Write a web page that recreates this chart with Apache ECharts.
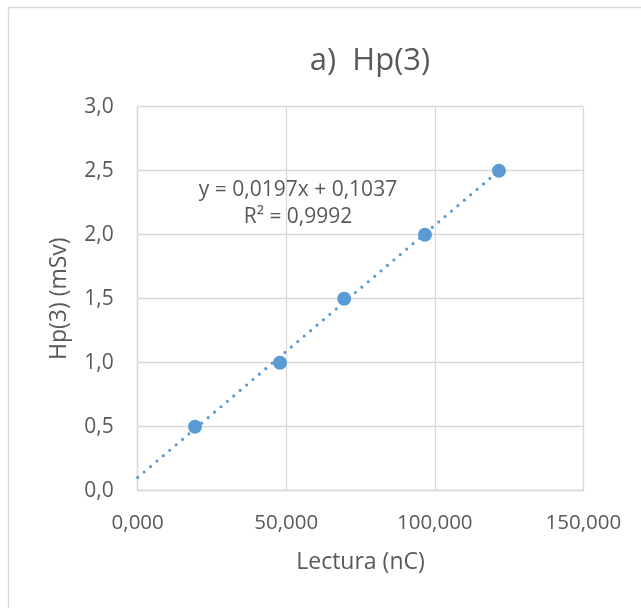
<!DOCTYPE html>
<html>
<head>
<meta charset="utf-8">
<script src="https://cdn.jsdelivr.net/npm/echarts@6/dist/echarts.min.js"></script>
<style>
  html, body { margin: 0; padding: 0; background: #ffffff; }
  #chart { width: 641px; height: 608px; }
</style>
</head>
<body>
<div id="chart"></div>
<script>
// Dosimeter calibration: reading (nC) vs. Hp(3) dose (mSv)
const lecturas = [19.3, 47.9, 69.5, 96.7, 121.6];
const dosis = [0.5, 1.0, 1.5, 2.0, 2.5];

// Linear trendline reported on the chart
const pendiente = 0.0197;
const ordenada = 0.1037;
const r2 = 0.9992;
const trendDesde = 0;

const xTicks = { min: 0, max: 150, step: 50 };
const yTicks = { min: 0, max: 3, step: 0.5 };

const titulo = 'a)  Hp(3)';
const ejeX = 'Lectura (nC)';
const ejeY = 'Hp(3) (mSv)';

const coma = (v, d) => v.toFixed(d).replace('.', ',');
const FONT = '"Open Sans", sans-serif';
const TXT = '#595959';
const GRID = '#D9D9D9';
const AZUL = '#5B9BD5';

const puntos = lecturas.map((x, i) => [x, dosis[i]]);
const xFin = Math.max(...lecturas);
const tendencia = [
  [trendDesde, pendiente * trendDesde + ordenada],
  [xFin, pendiente * xFin + ordenada]
];

const chart = echarts.init(document.getElementById('chart'), null, { renderer: 'canvas' });
chart.setOption({
  backgroundColor: '#ffffff',
  animation: false,
  textStyle: { fontFamily: FONT },
  title: {
    text: titulo,
    left: 365,
    top: 41,
    textAlign: 'center',
    textStyle: { fontFamily: FONT, fontSize: 31, fontWeight: 'normal', color: TXT }
  },
  grid: { left: 137.7, right: 57.7, top: 106.7, bottom: 117.3, containLabel: false },
  xAxis: {
    type: 'value',
    min: xTicks.min, max: xTicks.max, interval: xTicks.step,
    name: ejeX, nameLocation: 'middle', nameGap: 60,
    nameTextStyle: { fontFamily: FONT, fontSize: 23, color: TXT },
    axisLine: { show: true, lineStyle: { color: GRID, width: 1.3 } },
    axisTick: { show: false },
    axisLabel: { fontFamily: FONT, fontSize: 20.5, color: TXT, margin: 22, formatter: v => coma(v, 3) },
    splitLine: { show: true, lineStyle: { color: GRID, width: 1.3 } }
  },
  yAxis: {
    type: 'value',
    min: yTicks.min, max: yTicks.max, interval: yTicks.step,
    name: ejeY, nameLocation: 'middle', nameGap: 67, nameRotate: 90,
    nameTextStyle: { fontFamily: FONT, fontSize: 23, color: TXT },
    axisLine: { show: true, lineStyle: { color: GRID, width: 1.3 } },
    axisTick: { show: false },
    axisLabel: { fontFamily: FONT, fontSize: 21, color: TXT, margin: 24, formatter: v => coma(v, 1) },
    splitLine: { show: true, lineStyle: { color: GRID, width: 1.3 } }
  },
  graphic: [
    {
      type: 'rect', z: -1, silent: true,
      shape: { x: 8.5, y: 7.5, width: 700, height: 700 },
      style: { fill: 'none', stroke: GRID, lineWidth: 1.3 }
    },
    {
      type: 'text', z: 10, silent: true,
      style: {
        x: 298, y: 204,
        text: 'y = ' + coma(pendiente, 4) + 'x + ' + coma(ordenada, 4) + '\nR² = ' + coma(r2, 4),
        align: 'center', verticalAlign: 'middle',
        font: '21px ' + FONT, fill: TXT, lineHeight: 27
      }
    }
  ],
  series: [
    {
      type: 'scatter',
      data: puntos,
      symbol: 'circle',
      symbolSize: 14,
      itemStyle: { color: AZUL, opacity: 1 },
      z: 2
    },
    {
      type: 'line',
      data: tendencia,
      symbol: 'none',
      lineStyle: { color: AZUL, width: 3.2, type: [0, 8.4], cap: 'round' },
      z: 3
    }
  ]
});
</script>
</body>
</html>
